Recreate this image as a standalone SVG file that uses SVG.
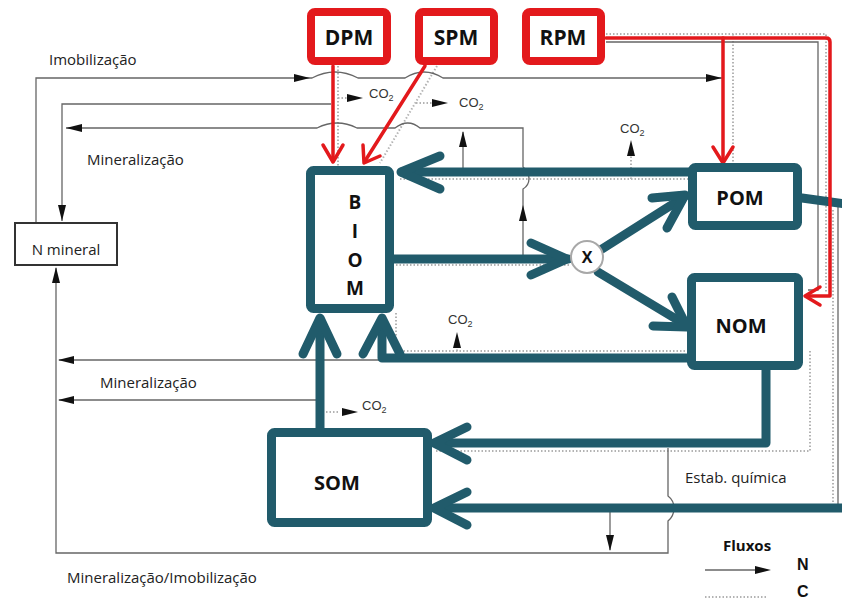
<svg xmlns="http://www.w3.org/2000/svg" xmlns:xlink="http://www.w3.org/1999/xlink" width="842" height="601" viewBox="0 0 842 601">
  <style>
    .lbl { font-family: "Open Sans", "Liberation Sans", sans-serif; font-size: 15px; fill: #222; }
    .bold { font-family: "Open Sans", "Liberation Sans", sans-serif; font-weight: bold; fill: #111; }
    .co2 { font-family: "Liberation Sans", Arial, sans-serif; font-size: 13px; fill: #333; }
    .teal-box { fill: #fff; stroke: #215b6b; stroke-width: 9; }
    .red-box { fill: #fff; stroke: #e3191c; stroke-width: 8; }
    .teal { fill: none; stroke: #215b6b; stroke-width: 9; stroke-linecap: round; stroke-linejoin: round; }
    .red { fill: none; stroke: #e3191c; stroke-width: 3.5; stroke-linecap: round; stroke-linejoin: round; }
    .nflow { fill: none; stroke: #666; stroke-width: 1.3; }
    .cflow { fill: none; stroke: #b3b3b3; stroke-width: 2; stroke-dasharray: 1.5 2; }
    .ah { fill: #111; }
  </style>
  <defs>
    <path id="ah" d="M0,0 L-16,-4 L-16,4 Z"/>
  </defs>

  <rect width="842" height="601" fill="#fff"/>

  <!-- C flows (dotted) -->
  <g id="carbon-flows">
    <path class="cflow" d="M338,66 V166"/>
    <path class="cflow" d="M338,98 H347"/>
    <path class="cflow" d="M437,66 L380,163"/>
    <path class="cflow" d="M416,103 H432"/>
    <path class="cflow" d="M606,34 H826 V292"/>
    <path class="cflow" d="M733,34 V163"/>
    <path class="cflow" d="M400,179 H688"/>
    <path class="cflow" d="M631,179 V155"/>
    <path class="cflow" d="M396,265 H571"/>
    <path class="cflow" d="M396,313 V351 H688"/>
    <path class="cflow" d="M457,351 V349"/>
    <path class="cflow" d="M436,451 H810 V350"/>
    <path class="cflow" d="M326,412 H338"/>
    <path class="cflow" d="M833,210 V505"/>
  </g>

  <!-- N flows (thin solid) -->
  <g id="nitrogen-flows">
    <path class="nflow" d="M36,223 V78 H312 Q335,66 358,78 H405 Q424,66 443,78 H722"/>
    <path class="nflow" d="M62,221 V104 H331"/>
    <path class="nflow" d="M523,258 V189 C531,184 531,173 523,167 V128 H420 Q408,118 395,128 H357 Q337,118 317,128 H66"/>
    <path class="nflow" d="M463,172 V132"/>
    <path class="nflow" d="M668,448 V496 C676,502 676,514 668,521 V553 H56 V268"/>
    <path class="nflow" d="M610,508 V550"/>
    <path class="nflow" d="M59,360 H384"/>
    <path class="nflow" d="M59,400 H318"/>
    <path class="nflow" d="M606,42 H818 V290 H808"/>
    <path class="nflow" d="M838,205 V506"/>
    <!-- arrowheads -->
    <use xlink:href="#ah" class="ah" transform="translate(310,78)"/>
    <use xlink:href="#ah" class="ah" transform="translate(722,78)"/>
    <use xlink:href="#ah" class="ah" transform="translate(66,128) rotate(180)"/>
    <use xlink:href="#ah" class="ah" transform="translate(62,221) rotate(90)"/>
    <use xlink:href="#ah" class="ah" transform="translate(463,131) rotate(-90)"/>
    <use xlink:href="#ah" class="ah" transform="translate(523,205) rotate(-90)"/>
    <use xlink:href="#ah" class="ah" transform="translate(56,267) rotate(-90)"/>
    <use xlink:href="#ah" class="ah" transform="translate(58,360) rotate(180)"/>
    <use xlink:href="#ah" class="ah" transform="translate(58,400) rotate(180)"/>
    <use xlink:href="#ah" class="ah" transform="translate(610,551) rotate(90)"/>
    <!-- CO2 release arrows -->
    <use xlink:href="#ah" class="ah" transform="translate(363,98)"/>
    <use xlink:href="#ah" class="ah" transform="translate(448,103)"/>
    <use xlink:href="#ah" class="ah" transform="translate(631,140) rotate(-90)"/>
    <use xlink:href="#ah" class="ah" transform="translate(457,332) rotate(-90)"/>
    <use xlink:href="#ah" class="ah" transform="translate(358,412)"/>
  </g>

  <!-- main pool connectors -->
  <g id="connectors">
    <path class="teal" d="M692,172 H402"/>
    <path class="teal" d="M440,156 L401,172 L440,189"/>
    <path class="teal" d="M394,259 H568"/>
    <path class="teal" d="M531,243 L567,259 L531,275"/>
    <path class="teal" d="M602,249 L684,197"/>
    <path class="teal" d="M652,198 L685,195 L667,228"/>
    <path class="teal" d="M598,272 L686,325"/>
    <path class="teal" d="M653,326 L687,327 L672,297"/>
    <path class="teal" d="M691,358 H382 V320"/>
    <path class="teal" d="M363,354 L382,318 L400,354"/>
    <path class="teal" d="M320,432 V320"/>
    <path class="teal" d="M303,354 L320,318 L337,354"/>
    <path class="teal" d="M766,370 V443 H436"/>
    <path class="teal" d="M467,427 L434,443 L467,460"/>
    <path class="teal" d="M802,198 L860,206 V508 H436"/>
    <path class="teal" d="M467,492 L434,508 L467,525"/>

    <path class="red" d="M333,66 V161"/>
    <path class="red" d="M323,145 L333,162 L343,145"/>
    <path class="red" d="M425,66 L365,161"/>
    <path class="red" d="M380,156 L364,163 L363,145"/>
    <path class="red" d="M606,38 H826 Q830,38 830,42 V296 H807"/>
    <path class="red" d="M820,287 L805,296 L820,305"/>
    <path class="red" d="M723,38 V161"/>
    <path class="red" d="M713,147 L723,163 L733,147"/>
  </g>

  <!-- input pools -->
  <g id="DPM">
    <rect class="red-box" x="311" y="12" width="76" height="49" rx="4"/>
    <text class="bold" x="349" y="45" font-size="21" text-anchor="middle">DPM</text>
  </g>
  <g id="SPM">
    <rect class="red-box" x="419" y="12" width="75" height="49" rx="4"/>
    <text class="bold" x="456" y="45" font-size="21" text-anchor="middle">SPM</text>
  </g>
  <g id="RPM">
    <rect class="red-box" x="526" y="12" width="75" height="49" rx="4"/>
    <text class="bold" x="563" y="45" font-size="21" text-anchor="middle">RPM</text>
  </g>

  <!-- soil pools -->
  <g id="BIOM">
    <rect class="teal-box" x="310.5" y="170.5" width="79" height="138" rx="3"/>
    <g class="bold" font-size="19" text-anchor="middle">
      <text x="355" y="209">B</text>
      <text x="355" y="238">I</text>
      <text x="355" y="267">O</text>
      <text x="355" y="295">M</text>
    </g>
  </g>
  <g id="POM">
    <rect class="teal-box" x="692.5" y="167.5" width="105" height="58" rx="3"/>
    <text class="bold" x="740" y="205" font-size="20" text-anchor="middle">POM</text>
  </g>
  <g id="NOM">
    <rect class="teal-box" x="691.5" y="277.5" width="107" height="88" rx="3"/>
    <text class="bold" x="741" y="333" font-size="20" text-anchor="middle">NOM</text>
  </g>
  <g id="SOM">
    <rect class="teal-box" x="271.5" y="432.5" width="156" height="90" rx="3"/>
    <text class="bold" x="337" y="490" font-size="20" text-anchor="middle">SOM</text>
  </g>
  <g id="X">
    <circle cx="587" cy="257" r="16" fill="#fff" stroke="#a8a8a8" stroke-width="2"/>
    <text class="bold" x="587" y="263" font-size="16" text-anchor="middle">X</text>
  </g>
  <g id="N-mineral">
    <rect x="15" y="223" width="102" height="42" fill="#fff" stroke="#333" stroke-width="2"/>
    <text class="lbl" x="66" y="255" text-anchor="middle">N mineral</text>
  </g>

  <!-- CO2 labels -->
  <g id="co2-labels" class="co2">
    <text x="369" y="98">CO<tspan font-size="9" dy="3">2</tspan></text>
    <text x="459" y="107">CO<tspan font-size="9" dy="3">2</tspan></text>
    <text x="620" y="133">CO<tspan font-size="9" dy="3">2</tspan></text>
    <text x="448" y="324">CO<tspan font-size="9" dy="3">2</tspan></text>
    <text x="362" y="410">CO<tspan font-size="9" dy="3">2</tspan></text>
  </g>

  <!-- flow labels -->
  <g id="flow-labels">
    <text class="lbl" x="49" y="65">Imobilização</text>
    <text class="lbl" x="87" y="165">Mineralização</text>
    <text class="lbl" x="100" y="388">Mineralização</text>
    <text class="lbl" x="67" y="583">Mineralização/Imobilização</text>
    <text class="lbl" x="685" y="483">Estab. química</text>
  </g>

  <!-- legend -->
  <g id="legend">
    <text class="bold" x="723" y="551" font-size="15">Fluxos</text>
    <path class="nflow" d="M705,570 H760"/>
    <use xlink:href="#ah" class="ah" transform="translate(771,570)"/>
    <path class="cflow" d="M705,597 H768"/>
    <text x="797" y="570" font-family="Liberation Sans, Arial, sans-serif" font-weight="bold" font-size="16" fill="#111">N</text>
    <text x="797" y="597" font-family="Liberation Sans, Arial, sans-serif" font-weight="bold" font-size="16" fill="#111">C</text>
  </g>
</svg>
